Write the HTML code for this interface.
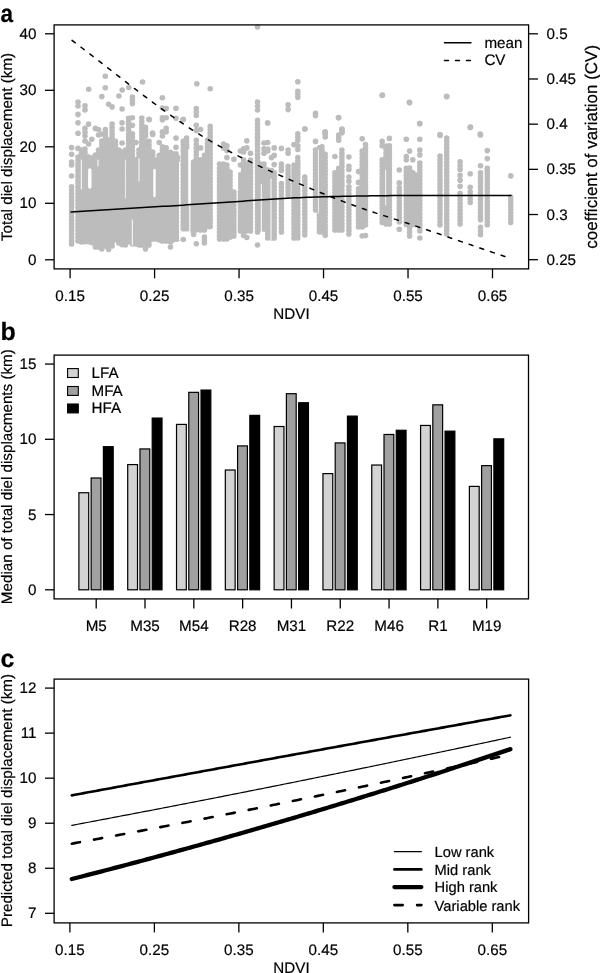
<!DOCTYPE html>
<html><head><meta charset="utf-8"><style>
html,body{margin:0;padding:0;background:#fff;overflow:hidden;}
svg{display:block;font-family:"Liberation Sans",sans-serif;filter:grayscale(1);text-rendering:geometricPrecision;}
</style></head><body><svg width="600" height="973" viewBox="0 0 600 973" font-family="Liberation Sans, sans-serif" fill="#000"><g fill="#bcbcbc" stroke="#bcbcbc" stroke-width="5.6" stroke-linecap="round">
<line x1="71.6" y1="186.7" x2="71.6" y2="244.01" stroke-dasharray="0 3.371"/>
<line x1="71.6" y1="162" x2="71.6" y2="165.01" stroke-dasharray="0 3.000"/>
<circle cx="71.6" cy="147.6" r="2.8" stroke="none"/>
<circle cx="71.6" cy="154.3" r="2.8" stroke="none"/>
<circle cx="71.6" cy="176" r="2.8" stroke="none"/>
<line x1="78.0" y1="157" x2="78.0" y2="241.01" stroke-dasharray="0 3.360"/>
<line x1="78.0" y1="102" x2="78.0" y2="106.01" stroke-dasharray="0 4.000"/>
<circle cx="78.0" cy="114.4" r="2.8" stroke="none"/>
<circle cx="78.0" cy="122.8" r="2.8" stroke="none"/>
<circle cx="78.0" cy="133.3" r="2.8" stroke="none"/>
<circle cx="78.0" cy="148.4" r="2.8" stroke="none"/>
<line x1="81.5" y1="150" x2="81.5" y2="242.01" stroke-dasharray="0 3.407"/>
<line x1="85.0" y1="149" x2="85.0" y2="245.01" stroke-dasharray="0 3.429"/>
<line x1="85.0" y1="105.8" x2="85.0" y2="110.01" stroke-dasharray="0 4.200"/>
<line x1="85.0" y1="128.4" x2="85.0" y2="136.01" stroke-dasharray="0 3.800"/>
<circle cx="85.0" cy="141" r="2.8" stroke="none"/>
<line x1="88.6" y1="157" x2="88.6" y2="245.01" stroke-dasharray="0 3.385"/>
<circle cx="88.6" cy="124.1" r="2.8" stroke="none"/>
<circle cx="88.6" cy="144" r="2.8" stroke="none"/>
<line x1="91.8" y1="158" x2="91.8" y2="246.01" stroke-dasharray="0 3.385"/>
<circle cx="91.8" cy="139.2" r="2.8" stroke="none"/>
<line x1="95.3" y1="155" x2="95.3" y2="247.01" stroke-dasharray="0 3.407"/>
<circle cx="95.3" cy="128.4" r="2.8" stroke="none"/>
<line x1="98.5" y1="150" x2="98.5" y2="247.01" stroke-dasharray="0 3.345"/>
<circle cx="98.5" cy="129.5" r="2.8" stroke="none"/>
<circle cx="98.5" cy="135" r="2.8" stroke="none"/>
<line x1="101.8" y1="141" x2="101.8" y2="249.01" stroke-dasharray="0 3.375"/>
<circle cx="101.8" cy="96.6" r="2.8" stroke="none"/>
<circle cx="101.8" cy="134" r="2.8" stroke="none"/>
<line x1="105.4" y1="129.5" x2="105.4" y2="249.51" stroke-dasharray="0 3.429"/>
<line x1="108.6" y1="140" x2="108.6" y2="249.51" stroke-dasharray="0 3.422"/>
<circle cx="108.6" cy="104.2" r="2.8" stroke="none"/>
<line x1="112.1" y1="124" x2="112.1" y2="246.01" stroke-dasharray="0 3.389"/>
<circle cx="112.1" cy="106.9" r="2.8" stroke="none"/>
<line x1="115.5" y1="141.4" x2="115.5" y2="243.01" stroke-dasharray="0 3.387"/>
<line x1="118.9" y1="150" x2="118.9" y2="243.01" stroke-dasharray="0 3.444"/>
<circle cx="118.9" cy="96" r="2.8" stroke="none"/>
<line x1="122.1" y1="152" x2="122.1" y2="248.01" stroke-dasharray="0 3.429"/>
<circle cx="122.1" cy="109" r="2.8" stroke="none"/>
<circle cx="122.1" cy="122.8" r="2.8" stroke="none"/>
<circle cx="122.1" cy="129" r="2.8" stroke="none"/>
<circle cx="122.1" cy="143" r="2.8" stroke="none"/>
<line x1="125.5" y1="150" x2="125.5" y2="245.01" stroke-dasharray="0 3.393"/>
<line x1="128.6" y1="130.6" x2="128.6" y2="245.01" stroke-dasharray="0 3.365"/>
<line x1="128.6" y1="118.2" x2="128.6" y2="127.41" stroke-dasharray="0 3.067"/>
<line x1="132.4" y1="133.8" x2="132.4" y2="244.01" stroke-dasharray="0 3.444"/>
<line x1="132.4" y1="97" x2="132.4" y2="103.61" stroke-dasharray="0 3.300"/>
<circle cx="132.4" cy="117.7" r="2.8" stroke="none"/>
<circle cx="132.4" cy="125.2" r="2.8" stroke="none"/>
<line x1="136.1" y1="159.7" x2="136.1" y2="244.01" stroke-dasharray="0 3.372"/>
<circle cx="136.1" cy="142.5" r="2.8" stroke="none"/>
<line x1="139.0" y1="150" x2="139.0" y2="245.01" stroke-dasharray="0 3.393"/>
<line x1="141.8" y1="118" x2="141.8" y2="245.01" stroke-dasharray="0 3.432"/>
<line x1="145.5" y1="141.4" x2="145.5" y2="249.01" stroke-dasharray="0 3.362"/>
<line x1="145.5" y1="127.4" x2="145.5" y2="136.01" stroke-dasharray="0 2.867"/>
<line x1="149.0" y1="141.4" x2="149.0" y2="245.01" stroke-dasharray="0 3.453"/>
<circle cx="149.0" cy="119.3" r="2.8" stroke="none"/>
<line x1="152.7" y1="152" x2="152.7" y2="239.01" stroke-dasharray="0 3.346"/>
<circle cx="152.7" cy="134.4" r="2.8" stroke="none"/>
<line x1="156.0" y1="160" x2="156.0" y2="239.01" stroke-dasharray="0 3.435"/>
<line x1="159.2" y1="155.4" x2="159.2" y2="240.01" stroke-dasharray="0 3.384"/>
<circle cx="159.2" cy="142.5" r="2.8" stroke="none"/>
<line x1="162.4" y1="146.8" x2="162.4" y2="241.01" stroke-dasharray="0 3.364"/>
<line x1="162.4" y1="117.7" x2="162.4" y2="119.81" stroke-dasharray="0 2.100"/>
<line x1="162.4" y1="131.7" x2="162.4" y2="136.01" stroke-dasharray="0 4.300"/>
<circle cx="162.4" cy="97.7" r="2.8" stroke="none"/>
<circle cx="162.4" cy="108" r="2.8" stroke="none"/>
<line x1="166.2" y1="147.9" x2="166.2" y2="241.01" stroke-dasharray="0 3.448"/>
<line x1="166.2" y1="128.4" x2="166.2" y2="131.71" stroke-dasharray="0 3.300"/>
<circle cx="166.2" cy="108.5" r="2.8" stroke="none"/>
<circle cx="166.2" cy="117.7" r="2.8" stroke="none"/>
<line x1="170.5" y1="152.2" x2="170.5" y2="242.01" stroke-dasharray="0 3.454"/>
<circle cx="170.5" cy="247" r="2.8" stroke="none"/>
<line x1="173.2" y1="154" x2="173.2" y2="240.01" stroke-dasharray="0 3.440"/>
<line x1="176.0" y1="153.8" x2="176.0" y2="239.01" stroke-dasharray="0 3.408"/>
<circle cx="176.0" cy="108.3" r="2.8" stroke="none"/>
<circle cx="176.0" cy="118.2" r="2.8" stroke="none"/>
<circle cx="176.0" cy="138.1" r="2.8" stroke="none"/>
<circle cx="176.0" cy="147.3" r="2.8" stroke="none"/>
<line x1="177.5" y1="157.6" x2="177.5" y2="239.01" stroke-dasharray="0 3.392"/>
<line x1="183.3" y1="141.4" x2="183.3" y2="232.01" stroke-dasharray="0 3.356"/>
<circle cx="183.3" cy="119.3" r="2.8" stroke="none"/>
<circle cx="183.3" cy="239.5" r="2.8" stroke="none"/>
<line x1="186.6" y1="138.1" x2="186.6" y2="232.01" stroke-dasharray="0 3.354"/>
<line x1="191.2" y1="165" x2="191.2" y2="230.01" stroke-dasharray="0 3.421"/>
<line x1="193.6" y1="162" x2="193.6" y2="230.01" stroke-dasharray="0 3.400"/>
<circle cx="193.6" cy="234.5" r="2.8" stroke="none"/>
<line x1="196.3" y1="144.6" x2="196.3" y2="230.01" stroke-dasharray="0 3.416"/>
<line x1="196.3" y1="108.5" x2="196.3" y2="115.51" stroke-dasharray="0 3.500"/>
<circle cx="196.3" cy="125.2" r="2.8" stroke="none"/>
<circle cx="196.3" cy="130.6" r="2.8" stroke="none"/>
<circle cx="196.3" cy="140.3" r="2.8" stroke="none"/>
<circle cx="196.3" cy="243.8" r="2.8" stroke="none"/>
<line x1="200.6" y1="164" x2="200.6" y2="230.01" stroke-dasharray="0 3.474"/>
<circle cx="200.6" cy="129.5" r="2.8" stroke="none"/>
<circle cx="200.6" cy="147.9" r="2.8" stroke="none"/>
<circle cx="200.6" cy="159.7" r="2.8" stroke="none"/>
<line x1="204.4" y1="155.4" x2="204.4" y2="230.01" stroke-dasharray="0 3.391"/>
<line x1="204.4" y1="237" x2="204.4" y2="243.01" stroke-dasharray="0 3.000"/>
<line x1="207.5" y1="140" x2="207.5" y2="230.01" stroke-dasharray="0 3.462"/>
<line x1="210.2" y1="126.3" x2="210.2" y2="230.01" stroke-dasharray="0 3.457"/>
<circle cx="210.2" cy="88.7" r="2.8" stroke="none"/>
<line x1="219.5" y1="168.4" x2="219.5" y2="239.01" stroke-dasharray="0 3.362"/>
<circle cx="219.5" cy="164" r="2.8" stroke="none"/>
<line x1="223.6" y1="164" x2="223.6" y2="239.01" stroke-dasharray="0 3.409"/>
<circle cx="223.6" cy="144" r="2.8" stroke="none"/>
<circle cx="223.6" cy="147.9" r="2.8" stroke="none"/>
<line x1="226.9" y1="165" x2="226.9" y2="239.01" stroke-dasharray="0 3.364"/>
<circle cx="226.9" cy="145.7" r="2.8" stroke="none"/>
<circle cx="226.9" cy="150.6" r="2.8" stroke="none"/>
<circle cx="226.9" cy="157.6" r="2.8" stroke="none"/>
<line x1="230.1" y1="172" x2="230.1" y2="237.01" stroke-dasharray="0 3.421"/>
<line x1="233.9" y1="192" x2="233.9" y2="236.01" stroke-dasharray="0 3.385"/>
<circle cx="233.9" cy="159.2" r="2.8" stroke="none"/>
<line x1="240.4" y1="174.8" x2="240.4" y2="231.01" stroke-dasharray="0 3.306"/>
<circle cx="240.4" cy="151" r="2.8" stroke="none"/>
<circle cx="240.4" cy="165" r="2.8" stroke="none"/>
<circle cx="240.4" cy="181.3" r="2.8" stroke="none"/>
<line x1="243.6" y1="164" x2="243.6" y2="231.01" stroke-dasharray="0 3.350"/>
<circle cx="243.6" cy="148.9" r="2.8" stroke="none"/>
<circle cx="243.6" cy="152" r="2.8" stroke="none"/>
<circle cx="243.6" cy="160" r="2.8" stroke="none"/>
<circle cx="243.6" cy="235.5" r="2.8" stroke="none"/>
<line x1="246.8" y1="164" x2="246.8" y2="231.01" stroke-dasharray="0 3.350"/>
<circle cx="246.8" cy="140.8" r="2.8" stroke="none"/>
<circle cx="246.8" cy="147.9" r="2.8" stroke="none"/>
<circle cx="246.8" cy="237.5" r="2.8" stroke="none"/>
<line x1="250.5" y1="160" x2="250.5" y2="231.01" stroke-dasharray="0 3.381"/>
<circle cx="250.5" cy="153.3" r="2.8" stroke="none"/>
<line x1="257.5" y1="120.4" x2="257.5" y2="232.01" stroke-dasharray="0 3.382"/>
<line x1="257.5" y1="102" x2="257.5" y2="110.01" stroke-dasharray="0 4.000"/>
<circle cx="257.5" cy="245" r="2.8" stroke="none"/>
<circle cx="257.5" cy="27" r="2.8" stroke="none"/>
<line x1="260.5" y1="164" x2="260.5" y2="229.01" stroke-dasharray="0 3.421"/>
<line x1="264.0" y1="164" x2="264.0" y2="229.01" stroke-dasharray="0 3.421"/>
<circle cx="264.0" cy="143" r="2.8" stroke="none"/>
<circle cx="264.0" cy="148.9" r="2.8" stroke="none"/>
<circle cx="264.0" cy="153.3" r="2.8" stroke="none"/>
<line x1="267.7" y1="170" x2="267.7" y2="238.01" stroke-dasharray="0 3.400"/>
<circle cx="267.7" cy="123" r="2.8" stroke="none"/>
<circle cx="267.7" cy="142.5" r="2.8" stroke="none"/>
<circle cx="267.7" cy="149" r="2.8" stroke="none"/>
<circle cx="267.7" cy="151" r="2.8" stroke="none"/>
<line x1="271.5" y1="170.5" x2="271.5" y2="238.01" stroke-dasharray="0 3.375"/>
<circle cx="271.5" cy="157.6" r="2.8" stroke="none"/>
<line x1="274.2" y1="172.7" x2="274.2" y2="238.01" stroke-dasharray="0 3.437"/>
<circle cx="274.2" cy="147.9" r="2.8" stroke="none"/>
<circle cx="274.2" cy="155.4" r="2.8" stroke="none"/>
<circle cx="274.2" cy="164.6" r="2.8" stroke="none"/>
<line x1="281.4" y1="183.5" x2="281.4" y2="232.01" stroke-dasharray="0 3.464"/>
<line x1="281.4" y1="164" x2="281.4" y2="170.51" stroke-dasharray="0 3.250"/>
<circle cx="281.4" cy="148.4" r="2.8" stroke="none"/>
<line x1="288.1" y1="166.2" x2="288.1" y2="195.01" stroke-dasharray="0 3.600"/>
<line x1="288.1" y1="104.7" x2="288.1" y2="109.61" stroke-dasharray="0 4.900"/>
<line x1="288.1" y1="150" x2="288.1" y2="153.31" stroke-dasharray="0 3.300"/>
<line x1="294.0" y1="165" x2="294.0" y2="238.01" stroke-dasharray="0 3.476"/>
<circle cx="294.0" cy="144.6" r="2.8" stroke="none"/>
<line x1="297.8" y1="157.6" x2="297.8" y2="238.01" stroke-dasharray="0 3.350"/>
<line x1="297.8" y1="133.8" x2="297.8" y2="140.31" stroke-dasharray="0 3.250"/>
<line x1="297.8" y1="91.4" x2="297.8" y2="97.21" stroke-dasharray="0 2.900"/>
<circle cx="297.8" cy="81.8" r="2.8" stroke="none"/>
<circle cx="297.8" cy="145.7" r="2.8" stroke="none"/>
<circle cx="297.8" cy="149.5" r="2.8" stroke="none"/>
<line x1="304.8" y1="177" x2="304.8" y2="235.01" stroke-dasharray="0 3.412"/>
<circle cx="304.8" cy="129" r="2.8" stroke="none"/>
<line x1="315.5" y1="150" x2="315.5" y2="210.01" stroke-dasharray="0 3.333"/>
<line x1="315.5" y1="113.4" x2="315.5" y2="115.61" stroke-dasharray="0 2.200"/>
<circle cx="315.5" cy="141.4" r="2.8" stroke="none"/>
<line x1="319.4" y1="147.9" x2="319.4" y2="232.01" stroke-dasharray="0 3.364"/>
<line x1="322.0" y1="146.8" x2="322.0" y2="232.01" stroke-dasharray="0 3.408"/>
<line x1="325.2" y1="154.3" x2="325.2" y2="232.01" stroke-dasharray="0 3.378"/>
<line x1="325.2" y1="131.7" x2="325.2" y2="137.01" stroke-dasharray="0 2.650"/>
<circle cx="325.2" cy="235.2" r="2.8" stroke="none"/>
<line x1="334.9" y1="172.7" x2="334.9" y2="230.01" stroke-dasharray="0 3.371"/>
<circle cx="334.9" cy="156.5" r="2.8" stroke="none"/>
<line x1="338.7" y1="168.4" x2="338.7" y2="230.01" stroke-dasharray="0 3.422"/>
<line x1="338.7" y1="135" x2="338.7" y2="140.31" stroke-dasharray="0 2.650"/>
<circle cx="338.7" cy="117.7" r="2.8" stroke="none"/>
<line x1="341.9" y1="150" x2="341.9" y2="230.01" stroke-dasharray="0 3.333"/>
<line x1="341.9" y1="129.5" x2="341.9" y2="132.81" stroke-dasharray="0 3.300"/>
<line x1="348.9" y1="186.7" x2="348.9" y2="234.01" stroke-dasharray="0 3.379"/>
<line x1="348.9" y1="166.2" x2="348.9" y2="169.41" stroke-dasharray="0 3.200"/>
<line x1="348.9" y1="177" x2="348.9" y2="181.31" stroke-dasharray="0 4.300"/>
<circle cx="348.9" cy="157" r="2.8" stroke="none"/>
<line x1="358.5" y1="188.9" x2="358.5" y2="227.01" stroke-dasharray="0 3.464"/>
<circle cx="358.5" cy="171.6" r="2.8" stroke="none"/>
<circle cx="358.5" cy="182.4" r="2.8" stroke="none"/>
<line x1="362.2" y1="151.1" x2="362.2" y2="227.01" stroke-dasharray="0 3.450"/>
<circle cx="362.2" cy="138.7" r="2.8" stroke="none"/>
<circle cx="362.2" cy="236" r="2.8" stroke="none"/>
<line x1="365.5" y1="144.6" x2="365.5" y2="225.01" stroke-dasharray="0 3.350"/>
<circle cx="365.5" cy="235.5" r="2.8" stroke="none"/>
<line x1="382.2" y1="159.7" x2="382.2" y2="222.51" stroke-dasharray="0 3.489"/>
<line x1="382.2" y1="141.4" x2="382.2" y2="145.71" stroke-dasharray="0 4.300"/>
<circle cx="382.2" cy="95.5" r="2.8" stroke="none"/>
<line x1="386.0" y1="146" x2="386.0" y2="224.01" stroke-dasharray="0 3.391"/>
<line x1="389.4" y1="145.7" x2="389.4" y2="224.01" stroke-dasharray="0 3.404"/>
<circle cx="389.4" cy="138.4" r="2.8" stroke="none"/>
<line x1="399.3" y1="187.8" x2="399.3" y2="222.01" stroke-dasharray="0 3.420"/>
<circle cx="399.3" cy="170" r="2.8" stroke="none"/>
<circle cx="399.3" cy="182.9" r="2.8" stroke="none"/>
<circle cx="399.3" cy="229.3" r="2.8" stroke="none"/>
<line x1="406.3" y1="168.4" x2="406.3" y2="224.51" stroke-dasharray="0 3.506"/>
<line x1="406.3" y1="156.5" x2="406.3" y2="159.71" stroke-dasharray="0 3.200"/>
<circle cx="406.3" cy="139.2" r="2.8" stroke="none"/>
<line x1="409.6" y1="178" x2="409.6" y2="224.51" stroke-dasharray="0 3.321"/>
<line x1="409.6" y1="168" x2="409.6" y2="173.71" stroke-dasharray="0 2.850"/>
<line x1="409.6" y1="224.5" x2="409.6" y2="236.01" stroke-dasharray="0 3.833"/>
<circle cx="409.6" cy="102.6" r="2.8" stroke="none"/>
<circle cx="409.6" cy="151.1" r="2.8" stroke="none"/>
<line x1="412.8" y1="172.7" x2="412.8" y2="224.51" stroke-dasharray="0 3.453"/>
<circle cx="412.8" cy="159.7" r="2.8" stroke="none"/>
<line x1="416.0" y1="175" x2="416.0" y2="224.51" stroke-dasharray="0 3.300"/>
<line x1="419.8" y1="163" x2="419.8" y2="231.01" stroke-dasharray="0 3.400"/>
<line x1="419.8" y1="150" x2="419.8" y2="154.91" stroke-dasharray="0 4.900"/>
<circle cx="419.8" cy="123.6" r="2.8" stroke="none"/>
<circle cx="419.8" cy="139.2" r="2.8" stroke="none"/>
<circle cx="419.8" cy="238" r="2.8" stroke="none"/>
<line x1="440.0" y1="156" x2="440.0" y2="225.01" stroke-dasharray="0 3.450"/>
<circle cx="440.0" cy="135.5" r="2.8" stroke="none"/>
<line x1="446.7" y1="138.1" x2="446.7" y2="234.01" stroke-dasharray="0 3.425"/>
<circle cx="446.7" cy="96.6" r="2.8" stroke="none"/>
<line x1="460.1" y1="193.2" x2="460.1" y2="224.01" stroke-dasharray="0 3.422"/>
<line x1="460.1" y1="161.9" x2="460.1" y2="169.41" stroke-dasharray="0 3.750"/>
<circle cx="460.1" cy="175.4" r="2.8" stroke="none"/>
<circle cx="460.1" cy="180.2" r="2.8" stroke="none"/>
<circle cx="460.1" cy="186.2" r="2.8" stroke="none"/>
<line x1="470.2" y1="192" x2="470.2" y2="202.51" stroke-dasharray="0 3.500"/>
<circle cx="470.2" cy="127.4" r="2.8" stroke="none"/>
<circle cx="470.2" cy="173.7" r="2.8" stroke="none"/>
<circle cx="470.2" cy="187.2" r="2.8" stroke="none"/>
<line x1="480.5" y1="172.7" x2="480.5" y2="219.71" stroke-dasharray="0 3.357"/>
<line x1="480.5" y1="227.25" x2="480.5" y2="234.76" stroke-dasharray="0 3.750"/>
<circle cx="480.5" cy="134.9" r="2.8" stroke="none"/>
<circle cx="480.5" cy="165.7" r="2.8" stroke="none"/>
<line x1="487.3" y1="178" x2="487.3" y2="224.71" stroke-dasharray="0 3.336"/>
<line x1="487.3" y1="168.4" x2="487.3" y2="174.31" stroke-dasharray="0 2.950"/>
<circle cx="487.3" cy="150.6" r="2.8" stroke="none"/>
<circle cx="487.3" cy="158.6" r="2.8" stroke="none"/>
<line x1="510.7" y1="197" x2="510.7" y2="222.51" stroke-dasharray="0 3.188"/>
<circle cx="510.7" cy="175.9" r="2.8" stroke="none"/>
<circle cx="105.3" cy="76.2" r="2.8" stroke="none"/>
<circle cx="142.5" cy="82" r="2.8" stroke="none"/>
<circle cx="196.8" cy="83.8" r="2.8" stroke="none"/>
<circle cx="88.7" cy="89.2" r="2.8" stroke="none"/>
<circle cx="105.3" cy="87.8" r="2.8" stroke="none"/>
<circle cx="122.2" cy="90" r="2.8" stroke="none"/>
<circle cx="128.8" cy="87.5" r="2.8" stroke="none"/>
<circle cx="267.6" cy="123" r="2.8" stroke="none"/>
<circle cx="305" cy="129" r="2.8" stroke="none"/>
<circle cx="325" cy="132.6" r="2.8" stroke="none"/>
<circle cx="342" cy="129" r="2.8" stroke="none"/>
<circle cx="342" cy="132" r="2.8" stroke="none"/>
<circle cx="338.4" cy="117.6" r="2.8" stroke="none"/>
<circle cx="183" cy="119.7" r="2.8" stroke="none"/>
<circle cx="152.5" cy="133" r="2.8" stroke="none"/>
<circle cx="149.2" cy="119.7" r="2.8" stroke="none"/>
<circle cx="470.5" cy="127" r="2.8" stroke="none"/>
<circle cx="480.2" cy="134" r="2.8" stroke="none"/>
<circle cx="440" cy="134.6" r="2.8" stroke="none"/>
<circle cx="446.6" cy="96.4" r="2.8" stroke="none"/>
<circle cx="409.4" cy="102.4" r="2.8" stroke="none"/>
<circle cx="382.4" cy="95" r="2.8" stroke="none"/>
<circle cx="419.6" cy="123.6" r="2.8" stroke="none"/>
</g>
<g stroke="#fff" stroke-linecap="round">
<line x1="81.3" y1="160" x2="81.3" y2="189" stroke-width="1.0"/>
<line x1="125.4" y1="160" x2="125.4" y2="198" stroke-width="0.8"/>
<line x1="89.8" y1="170" x2="89.8" y2="187" stroke-width="3.4"/>
<line x1="98" y1="160" x2="98" y2="166" stroke-width="1.0"/>
<line x1="154.5" y1="170" x2="154.5" y2="196" stroke-width="2.4"/>
<line x1="189.5" y1="150" x2="189.5" y2="203" stroke-width="2.6"/>
<line x1="237.3" y1="167" x2="237.3" y2="190" stroke-width="1.6"/>
<line x1="132.3" y1="220" x2="132.3" y2="245" stroke-width="1.0"/>
<line x1="139" y1="158.6" x2="139" y2="181" stroke-width="1.0"/>
<line x1="179.5" y1="162" x2="179.5" y2="240" stroke-width="1.0"/>
<line x1="189.8" y1="162" x2="189.8" y2="235" stroke-width="1.2"/>
<line x1="261.3" y1="184.5" x2="261.3" y2="232" stroke-width="1.0"/>
<line x1="271" y1="179" x2="271" y2="240" stroke-width="1.0"/>
<line x1="385.7" y1="170" x2="385.7" y2="205" stroke-width="0.9"/>
<line x1="318.4" y1="150" x2="318.4" y2="213" stroke-width="0.8"/>
</g>
<rect x="54.1" y="24.9" width="474.5" height="244" fill="none" stroke="#000" stroke-width="1.3"/>
<line x1="45" y1="259.8" x2="54.1" y2="259.8" stroke="#000" stroke-width="1.3" stroke-linecap="butt"/>
<text transform="translate(36.5 264.8) scale(1 1.0)" font-size="15.2" text-anchor="end" stroke="#000" stroke-width="0.2">0</text>
<line x1="45" y1="203.3" x2="54.1" y2="203.3" stroke="#000" stroke-width="1.3" stroke-linecap="butt"/>
<text transform="translate(36.5 208.3) scale(1 1.0)" font-size="15.2" text-anchor="end" stroke="#000" stroke-width="0.2">10</text>
<line x1="45" y1="146.8" x2="54.1" y2="146.8" stroke="#000" stroke-width="1.3" stroke-linecap="butt"/>
<text transform="translate(36.5 151.8) scale(1 1.0)" font-size="15.2" text-anchor="end" stroke="#000" stroke-width="0.2">20</text>
<line x1="45" y1="90.30000000000001" x2="54.1" y2="90.30000000000001" stroke="#000" stroke-width="1.3" stroke-linecap="butt"/>
<text transform="translate(36.5 95.30000000000001) scale(1 1.0)" font-size="15.2" text-anchor="end" stroke="#000" stroke-width="0.2">30</text>
<line x1="45" y1="33.80000000000001" x2="54.1" y2="33.80000000000001" stroke="#000" stroke-width="1.3" stroke-linecap="butt"/>
<text transform="translate(36.5 38.80000000000001) scale(1 1.0)" font-size="15.2" text-anchor="end" stroke="#000" stroke-width="0.2">40</text>
<line x1="528.6" y1="33.8" x2="538" y2="33.8" stroke="#000" stroke-width="1.3" stroke-linecap="butt"/>
<text transform="translate(546.5 38.8) scale(1 1.0)" font-size="15.2" text-anchor="start" stroke="#000" stroke-width="0.2">0.5</text>
<line x1="528.6" y1="78.97999999999999" x2="538" y2="78.97999999999999" stroke="#000" stroke-width="1.3" stroke-linecap="butt"/>
<text transform="translate(546.5 83.97999999999999) scale(1 1.0)" font-size="15.2" text-anchor="start" stroke="#000" stroke-width="0.2">0.45</text>
<line x1="528.6" y1="124.16" x2="538" y2="124.16" stroke="#000" stroke-width="1.3" stroke-linecap="butt"/>
<text transform="translate(546.5 129.16) scale(1 1.0)" font-size="15.2" text-anchor="start" stroke="#000" stroke-width="0.2">0.4</text>
<line x1="528.6" y1="169.33999999999997" x2="538" y2="169.33999999999997" stroke="#000" stroke-width="1.3" stroke-linecap="butt"/>
<text transform="translate(546.5 174.33999999999997) scale(1 1.0)" font-size="15.2" text-anchor="start" stroke="#000" stroke-width="0.2">0.35</text>
<line x1="528.6" y1="214.51999999999998" x2="538" y2="214.51999999999998" stroke="#000" stroke-width="1.3" stroke-linecap="butt"/>
<text transform="translate(546.5 219.51999999999998) scale(1 1.0)" font-size="15.2" text-anchor="start" stroke="#000" stroke-width="0.2">0.3</text>
<line x1="528.6" y1="259.7" x2="538" y2="259.7" stroke="#000" stroke-width="1.3" stroke-linecap="butt"/>
<text transform="translate(546.5 264.7) scale(1 1.0)" font-size="15.2" text-anchor="start" stroke="#000" stroke-width="0.2">0.25</text>
<line x1="70.1" y1="268.9" x2="70.1" y2="278.3" stroke="#000" stroke-width="1.3" stroke-linecap="butt"/>
<text transform="translate(70.1 301) scale(1 1.0)" font-size="15.2" text-anchor="middle" stroke="#000" stroke-width="0.2">0.15</text>
<line x1="154.57999999999998" y1="268.9" x2="154.57999999999998" y2="278.3" stroke="#000" stroke-width="1.3" stroke-linecap="butt"/>
<text transform="translate(154.57999999999998 301) scale(1 1.0)" font-size="15.2" text-anchor="middle" stroke="#000" stroke-width="0.2">0.25</text>
<line x1="239.06" y1="268.9" x2="239.06" y2="278.3" stroke="#000" stroke-width="1.3" stroke-linecap="butt"/>
<text transform="translate(239.06 301) scale(1 1.0)" font-size="15.2" text-anchor="middle" stroke="#000" stroke-width="0.2">0.35</text>
<line x1="323.53999999999996" y1="268.9" x2="323.53999999999996" y2="278.3" stroke="#000" stroke-width="1.3" stroke-linecap="butt"/>
<text transform="translate(323.53999999999996 301) scale(1 1.0)" font-size="15.2" text-anchor="middle" stroke="#000" stroke-width="0.2">0.45</text>
<line x1="408.02" y1="268.9" x2="408.02" y2="278.3" stroke="#000" stroke-width="1.3" stroke-linecap="butt"/>
<text transform="translate(408.02 301) scale(1 1.0)" font-size="15.2" text-anchor="middle" stroke="#000" stroke-width="0.2">0.55</text>
<line x1="492.5" y1="268.9" x2="492.5" y2="278.3" stroke="#000" stroke-width="1.3" stroke-linecap="butt"/>
<text transform="translate(492.5 301) scale(1 1.0)" font-size="15.2" text-anchor="middle" stroke="#000" stroke-width="0.2">0.65</text>
<text transform="translate(291.5 318.5) scale(1 1.0)" font-size="15.2" text-anchor="middle" stroke="#000" stroke-width="0.2">NDVI</text>
<text transform="translate(0.6,22.3) scale(0.9,1)" font-size="25" font-weight="bold" stroke="#000" stroke-width="0.2">a</text>
<text transform="translate(12 147) rotate(-90) scale(1 1.0)" font-size="15.2" text-anchor="middle" stroke="#000" stroke-width="0.2">Total diel displacement (km)</text>
<text transform="translate(597 146.8) rotate(-90) scale(1 1.0)" font-size="17" text-anchor="middle" stroke="#000" stroke-width="0.2">coefficient of variation (CV)</text>
<line x1="444.45" y1="42.7" x2="470.95" y2="42.7" stroke="#000" stroke-width="1.5" stroke-linecap="round"/>
<line x1="444.45" y1="60.4" x2="470.95" y2="60.4" stroke="#000" stroke-width="1.5" stroke-linecap="round" stroke-dasharray="4 7"/>
<text transform="translate(484.4 47.6) scale(1 1.0)" font-size="15.2" text-anchor="start" stroke="#000" stroke-width="0.2">mean</text>
<text transform="translate(484.4 65.1) scale(1 1.0)" font-size="15.2" text-anchor="start" stroke="#000" stroke-width="0.2">CV</text>
<polyline points="71.0,212.00 75.0,211.75 79.0,211.51 83.0,211.26 87.0,211.02 91.0,210.77 95.0,210.53 99.0,210.28 103.0,210.04 107.0,209.79 111.0,209.54 115.0,209.30 119.0,209.05 123.0,208.81 127.0,208.56 131.0,208.32 135.0,208.07 139.0,207.83 143.0,207.59 147.0,207.34 151.0,207.10 155.0,206.86 159.0,206.62 163.0,206.37 167.0,206.13 171.0,205.88 175.0,205.63 179.0,205.38 183.0,205.13 187.0,204.87 191.0,204.61 195.0,204.35 199.0,204.08 203.0,203.81 207.0,203.54 211.0,203.27 215.0,202.99 219.0,202.72 223.0,202.45 227.0,202.18 231.0,201.91 235.0,201.65 239.0,201.38 243.0,201.13 247.0,200.87 251.0,200.61 255.0,200.34 259.0,200.07 263.0,199.80 267.0,199.53 271.0,199.26 275.0,198.99 279.0,198.74 283.0,198.49 287.0,198.25 291.0,198.03 295.0,197.83 299.0,197.64 303.0,197.47 307.0,197.33 311.0,197.19 315.0,197.06 319.0,196.94 323.0,196.82 327.0,196.70 331.0,196.59 335.0,196.49 339.0,196.40 343.0,196.31 347.0,196.22 351.0,196.15 355.0,196.08 359.0,196.01 363.0,195.96 367.0,195.90 371.0,195.84 375.0,195.78 379.0,195.73 383.0,195.68 387.0,195.63 391.0,195.58 395.0,195.54 399.0,195.50 403.0,195.47 407.0,195.44 411.0,195.42 415.0,195.41 419.0,195.40 423.0,195.40 427.0,195.40 431.0,195.40 435.0,195.40 439.0,195.40 443.0,195.40 447.0,195.40 451.0,195.40 455.0,195.40 459.0,195.40 463.0,195.40 467.0,195.40 471.0,195.40 475.0,195.40 479.0,195.40 483.0,195.40 487.0,195.40 491.0,195.40 495.0,195.40 499.0,195.40 503.0,195.40 507.0,195.40 511.0,195.40" fill="none" stroke="#000" stroke-width="1.5" stroke-linecap="round" stroke-linejoin="round"/>
<polyline points="71.4,39.90 73.4,41.41 75.4,42.92 77.4,44.44 79.4,45.96 81.4,47.49 83.4,49.02 85.4,50.55 87.4,52.09 89.4,53.62 91.4,55.16 93.4,56.71 95.4,58.25 97.4,59.80 99.4,61.35 101.4,62.90 103.4,64.45 105.4,66.00 107.4,67.55 109.4,69.11 111.4,70.66 113.4,72.21 115.4,73.77 117.4,75.32 119.4,76.87 121.4,78.42 123.4,79.97 125.4,81.52 127.4,83.06 129.4,84.60 131.4,86.14 133.4,87.68 135.4,89.21 137.4,90.74 139.4,92.26 141.4,93.78 143.4,95.29 145.4,96.80 147.4,98.30 149.4,99.80 151.4,101.29 153.4,102.78 155.4,104.26 157.4,105.73 159.4,107.19 161.4,108.64 163.4,110.09 165.4,111.53 167.4,112.96 169.4,114.38 171.4,115.79 173.4,117.19 175.4,118.58 177.4,119.96 179.4,121.33 181.4,122.69 183.4,124.04 185.4,125.37 187.4,126.70 189.4,128.01 191.4,129.31 193.4,130.59 195.4,131.86 197.4,133.12 199.4,134.36 201.4,135.59 203.4,136.81 205.4,138.01 207.4,139.20 209.4,140.37 211.4,141.53 213.4,142.68 215.4,143.81 217.4,144.94 219.4,146.05 221.4,147.15 223.4,148.23 225.4,149.31 227.4,150.37 229.4,151.43 231.4,152.47 233.4,153.50 235.4,154.53 237.4,155.54 239.4,156.55 241.4,157.54 243.4,158.53 245.4,159.51 247.4,160.48 249.4,161.44 251.4,162.39 253.4,163.34 255.4,164.28 257.4,165.22 259.4,166.14 261.4,167.06 263.4,167.98 265.4,168.89 267.4,169.79 269.4,170.69 271.4,171.59 273.4,172.48 275.4,173.36 277.4,174.25 279.4,175.12 281.4,176.00 283.4,176.87 285.4,177.74 287.4,178.61 289.4,179.47 291.4,180.33 293.4,181.19 295.4,182.05 297.4,182.91 299.4,183.76 301.4,184.62 303.4,185.47 305.4,186.31 307.4,187.15 309.4,187.99 311.4,188.83 313.4,189.66 315.4,190.49 317.4,191.31 319.4,192.13 321.4,192.95 323.4,193.76 325.4,194.57 327.4,195.37 329.4,196.16 331.4,196.95 333.4,197.74 335.4,198.52 337.4,199.29 339.4,200.06 341.4,200.82 343.4,201.58 345.4,202.33 347.4,203.07 349.4,203.81 351.4,204.54 353.4,205.27 355.4,205.98 357.4,206.69 359.4,207.40 361.4,208.10 363.4,208.79 365.4,209.48 367.4,210.16 369.4,210.84 371.4,211.51 373.4,212.18 375.4,212.85 377.4,213.51 379.4,214.17 381.4,214.83 383.4,215.49 385.4,216.14 387.4,216.79 389.4,217.44 391.4,218.09 393.4,218.74 395.4,219.39 397.4,220.05 399.4,220.70 401.4,221.35 403.4,222.00 405.4,222.66 407.4,223.31 409.4,223.97 411.4,224.63 413.4,225.30 415.4,225.96 417.4,226.63 419.4,227.30 421.4,227.97 423.4,228.64 425.4,229.31 427.4,229.99 429.4,230.67 431.4,231.34 433.4,232.02 435.4,232.70 437.4,233.39 439.4,234.07 441.4,234.75 443.4,235.44 445.4,236.12 447.4,236.81 449.4,237.50 451.4,238.19 453.4,238.87 455.4,239.56 457.4,240.25 459.4,240.94 461.4,241.63 463.4,242.32 465.4,243.01 467.4,243.70 469.4,244.39 471.4,245.08 473.4,245.77 475.4,246.45 477.4,247.14 479.4,247.83 481.4,248.51 483.4,249.20 485.4,249.89 487.4,250.57 489.4,251.25 491.4,251.94 493.4,252.62 495.4,253.30 497.4,253.97 499.4,254.65 501.4,255.33 503.4,256.00 505.4,256.67 507.4,257.34 509.4,258.01" fill="none" stroke="#000" stroke-width="1.5" stroke-linecap="round" stroke-linejoin="round" stroke-dasharray="4 7.257" stroke-dashoffset="-0.8"/>
<rect x="54.1" y="355.1" width="474.4" height="243.8" fill="none" stroke="#000" stroke-width="1.3"/>
<line x1="45" y1="589.8" x2="54.1" y2="589.8" stroke="#000" stroke-width="1.3" stroke-linecap="butt"/>
<text transform="translate(36.5 594.8) scale(1 1.0)" font-size="15.2" text-anchor="end" stroke="#000" stroke-width="0.2">0</text>
<line x1="45" y1="514.55" x2="54.1" y2="514.55" stroke="#000" stroke-width="1.3" stroke-linecap="butt"/>
<text transform="translate(36.5 519.55) scale(1 1.0)" font-size="15.2" text-anchor="end" stroke="#000" stroke-width="0.2">5</text>
<line x1="45" y1="439.29999999999995" x2="54.1" y2="439.29999999999995" stroke="#000" stroke-width="1.3" stroke-linecap="butt"/>
<text transform="translate(36.5 444.29999999999995) scale(1 1.0)" font-size="15.2" text-anchor="end" stroke="#000" stroke-width="0.2">10</text>
<line x1="45" y1="364.04999999999995" x2="54.1" y2="364.04999999999995" stroke="#000" stroke-width="1.3" stroke-linecap="butt"/>
<text transform="translate(36.5 369.04999999999995) scale(1 1.0)" font-size="15.2" text-anchor="end" stroke="#000" stroke-width="0.2">15</text>
<line x1="96.2" y1="598.9" x2="96.2" y2="608.5" stroke="#000" stroke-width="1.3" stroke-linecap="butt"/>
<text transform="translate(96.2 631.0) scale(1 1.0)" font-size="15.2" text-anchor="middle" stroke="#000" stroke-width="0.2">M5</text>
<rect x="78.90" y="492.73" width="9.8" height="97.07" fill="#d3d3d3" stroke="#000" stroke-width="1.2"/>
<rect x="91.15" y="477.98" width="9.8" height="111.82" fill="#a0a0a0" stroke="#000" stroke-width="1.2"/>
<rect x="103.40" y="446.67" width="9.8" height="143.13" fill="#000000" stroke="#000" stroke-width="1.2"/>
<line x1="145.01" y1="598.9" x2="145.01" y2="608.5" stroke="#000" stroke-width="1.3" stroke-linecap="butt"/>
<text transform="translate(145.01 631.0) scale(1 1.0)" font-size="15.2" text-anchor="middle" stroke="#000" stroke-width="0.2">M35</text>
<rect x="127.71" y="464.58" width="9.8" height="125.22" fill="#d3d3d3" stroke="#000" stroke-width="1.2"/>
<rect x="139.96" y="448.93" width="9.8" height="140.87" fill="#a0a0a0" stroke="#000" stroke-width="1.2"/>
<rect x="152.21" y="418.08" width="9.8" height="171.72" fill="#000000" stroke="#000" stroke-width="1.2"/>
<line x1="193.82" y1="598.9" x2="193.82" y2="608.5" stroke="#000" stroke-width="1.3" stroke-linecap="butt"/>
<text transform="translate(193.82 631.0) scale(1 1.0)" font-size="15.2" text-anchor="middle" stroke="#000" stroke-width="0.2">M54</text>
<rect x="176.52" y="424.40" width="9.8" height="165.40" fill="#d3d3d3" stroke="#000" stroke-width="1.2"/>
<rect x="188.77" y="392.34" width="9.8" height="197.46" fill="#a0a0a0" stroke="#000" stroke-width="1.2"/>
<rect x="201.02" y="390.08" width="9.8" height="199.72" fill="#000000" stroke="#000" stroke-width="1.2"/>
<line x1="242.63" y1="598.9" x2="242.63" y2="608.5" stroke="#000" stroke-width="1.3" stroke-linecap="butt"/>
<text transform="translate(242.63 631.0) scale(1 1.0)" font-size="15.2" text-anchor="middle" stroke="#000" stroke-width="0.2">R28</text>
<rect x="225.33" y="470.00" width="9.8" height="119.80" fill="#d3d3d3" stroke="#000" stroke-width="1.2"/>
<rect x="237.58" y="445.92" width="9.8" height="143.88" fill="#a0a0a0" stroke="#000" stroke-width="1.2"/>
<rect x="249.83" y="415.37" width="9.8" height="174.43" fill="#000000" stroke="#000" stroke-width="1.2"/>
<line x1="291.44" y1="598.9" x2="291.44" y2="608.5" stroke="#000" stroke-width="1.3" stroke-linecap="butt"/>
<text transform="translate(291.44 631.0) scale(1 1.0)" font-size="15.2" text-anchor="middle" stroke="#000" stroke-width="0.2">M31</text>
<rect x="274.14" y="426.51" width="9.8" height="163.29" fill="#d3d3d3" stroke="#000" stroke-width="1.2"/>
<rect x="286.39" y="393.70" width="9.8" height="196.10" fill="#a0a0a0" stroke="#000" stroke-width="1.2"/>
<rect x="298.64" y="402.73" width="9.8" height="187.07" fill="#000000" stroke="#000" stroke-width="1.2"/>
<line x1="340.25" y1="598.9" x2="340.25" y2="608.5" stroke="#000" stroke-width="1.3" stroke-linecap="butt"/>
<text transform="translate(340.25 631.0) scale(1 1.0)" font-size="15.2" text-anchor="middle" stroke="#000" stroke-width="0.2">R22</text>
<rect x="322.95" y="473.61" width="9.8" height="116.19" fill="#d3d3d3" stroke="#000" stroke-width="1.2"/>
<rect x="335.20" y="442.91" width="9.8" height="146.89" fill="#a0a0a0" stroke="#000" stroke-width="1.2"/>
<rect x="347.45" y="416.12" width="9.8" height="173.68" fill="#000000" stroke="#000" stroke-width="1.2"/>
<line x1="389.06" y1="598.9" x2="389.06" y2="608.5" stroke="#000" stroke-width="1.3" stroke-linecap="butt"/>
<text transform="translate(389.06 631.0) scale(1 1.0)" font-size="15.2" text-anchor="middle" stroke="#000" stroke-width="0.2">M46</text>
<rect x="371.76" y="465.03" width="9.8" height="124.77" fill="#d3d3d3" stroke="#000" stroke-width="1.2"/>
<rect x="384.01" y="434.48" width="9.8" height="155.32" fill="#a0a0a0" stroke="#000" stroke-width="1.2"/>
<rect x="396.26" y="430.27" width="9.8" height="159.53" fill="#000000" stroke="#000" stroke-width="1.2"/>
<line x1="437.87" y1="598.9" x2="437.87" y2="608.5" stroke="#000" stroke-width="1.3" stroke-linecap="butt"/>
<text transform="translate(437.87 631.0) scale(1 1.0)" font-size="15.2" text-anchor="middle" stroke="#000" stroke-width="0.2">R1</text>
<rect x="420.57" y="425.45" width="9.8" height="164.35" fill="#d3d3d3" stroke="#000" stroke-width="1.2"/>
<rect x="432.82" y="404.83" width="9.8" height="184.97" fill="#a0a0a0" stroke="#000" stroke-width="1.2"/>
<rect x="445.07" y="431.17" width="9.8" height="158.63" fill="#000000" stroke="#000" stroke-width="1.2"/>
<line x1="486.68" y1="598.9" x2="486.68" y2="608.5" stroke="#000" stroke-width="1.3" stroke-linecap="butt"/>
<text transform="translate(486.68 631.0) scale(1 1.0)" font-size="15.2" text-anchor="middle" stroke="#000" stroke-width="0.2">M19</text>
<rect x="469.38" y="486.40" width="9.8" height="103.40" fill="#d3d3d3" stroke="#000" stroke-width="1.2"/>
<rect x="481.63" y="465.64" width="9.8" height="124.16" fill="#a0a0a0" stroke="#000" stroke-width="1.2"/>
<rect x="493.88" y="438.85" width="9.8" height="150.95" fill="#000000" stroke="#000" stroke-width="1.2"/>
<text transform="translate(0.5 339.8) scale(1 1.0)" font-size="25" text-anchor="start" stroke="#000" stroke-width="0.2" font-weight="bold">b</text>
<text transform="translate(12 476.7) rotate(-90) scale(1 1.0)" font-size="15.2" text-anchor="middle" stroke="#000" stroke-width="0.2">Median of total diel displacments (km)</text>
<rect x="67.6" y="368.6" width="10.7" height="8.9" fill="#d3d3d3" stroke="#000" stroke-width="1.1"/>
<text transform="translate(91.5 378) scale(1 1.0)" font-size="15.2" text-anchor="start" stroke="#000" stroke-width="0.2">LFA</text>
<rect x="67.6" y="386.5" width="10.7" height="8.9" fill="#a0a0a0" stroke="#000" stroke-width="1.1"/>
<text transform="translate(91.5 396.3) scale(1 1.0)" font-size="15.2" text-anchor="start" stroke="#000" stroke-width="0.2">MFA</text>
<rect x="67.6" y="404.0" width="10.7" height="8.9" fill="#000000" stroke="#000" stroke-width="1.1"/>
<text transform="translate(91.5 413.2) scale(1 1.0)" font-size="15.2" text-anchor="start" stroke="#000" stroke-width="0.2">HFA</text>
<rect x="54.1" y="679.1" width="474.5" height="243.8" fill="none" stroke="#000" stroke-width="1.3"/>
<line x1="45" y1="913.3" x2="54.1" y2="913.3" stroke="#000" stroke-width="1.3" stroke-linecap="butt"/>
<text transform="translate(36.5 918.3) scale(1 1.0)" font-size="15.2" text-anchor="end" stroke="#000" stroke-width="0.2">7</text>
<line x1="45" y1="868.26" x2="54.1" y2="868.26" stroke="#000" stroke-width="1.3" stroke-linecap="butt"/>
<text transform="translate(36.5 873.26) scale(1 1.0)" font-size="15.2" text-anchor="end" stroke="#000" stroke-width="0.2">8</text>
<line x1="45" y1="823.22" x2="54.1" y2="823.22" stroke="#000" stroke-width="1.3" stroke-linecap="butt"/>
<text transform="translate(36.5 828.22) scale(1 1.0)" font-size="15.2" text-anchor="end" stroke="#000" stroke-width="0.2">9</text>
<line x1="45" y1="778.1800000000001" x2="54.1" y2="778.1800000000001" stroke="#000" stroke-width="1.3" stroke-linecap="butt"/>
<text transform="translate(36.5 783.1800000000001) scale(1 1.0)" font-size="15.2" text-anchor="end" stroke="#000" stroke-width="0.2">10</text>
<line x1="45" y1="733.14" x2="54.1" y2="733.14" stroke="#000" stroke-width="1.3" stroke-linecap="butt"/>
<text transform="translate(36.5 738.14) scale(1 1.0)" font-size="15.2" text-anchor="end" stroke="#000" stroke-width="0.2">11</text>
<line x1="45" y1="688.1" x2="54.1" y2="688.1" stroke="#000" stroke-width="1.3" stroke-linecap="butt"/>
<text transform="translate(36.5 693.1) scale(1 1.0)" font-size="15.2" text-anchor="end" stroke="#000" stroke-width="0.2">12</text>
<line x1="69.89999999999999" y1="922.9" x2="69.89999999999999" y2="932.4" stroke="#000" stroke-width="1.3" stroke-linecap="butt"/>
<text transform="translate(69.89999999999999 955.3) scale(1 1.0)" font-size="15.2" text-anchor="middle" stroke="#000" stroke-width="0.2">0.15</text>
<line x1="154.38" y1="922.9" x2="154.38" y2="932.4" stroke="#000" stroke-width="1.3" stroke-linecap="butt"/>
<text transform="translate(154.38 955.3) scale(1 1.0)" font-size="15.2" text-anchor="middle" stroke="#000" stroke-width="0.2">0.25</text>
<line x1="238.86" y1="922.9" x2="238.86" y2="932.4" stroke="#000" stroke-width="1.3" stroke-linecap="butt"/>
<text transform="translate(238.86 955.3) scale(1 1.0)" font-size="15.2" text-anchor="middle" stroke="#000" stroke-width="0.2">0.35</text>
<line x1="323.34" y1="922.9" x2="323.34" y2="932.4" stroke="#000" stroke-width="1.3" stroke-linecap="butt"/>
<text transform="translate(323.34 955.3) scale(1 1.0)" font-size="15.2" text-anchor="middle" stroke="#000" stroke-width="0.2">0.45</text>
<line x1="407.82" y1="922.9" x2="407.82" y2="932.4" stroke="#000" stroke-width="1.3" stroke-linecap="butt"/>
<text transform="translate(407.82 955.3) scale(1 1.0)" font-size="15.2" text-anchor="middle" stroke="#000" stroke-width="0.2">0.55</text>
<line x1="492.3" y1="922.9" x2="492.3" y2="932.4" stroke="#000" stroke-width="1.3" stroke-linecap="butt"/>
<text transform="translate(492.3 955.3) scale(1 1.0)" font-size="15.2" text-anchor="middle" stroke="#000" stroke-width="0.2">0.65</text>
<text transform="translate(291.5 973) scale(1 1.0)" font-size="15.2" text-anchor="middle" stroke="#000" stroke-width="0.2">NDVI</text>
<text transform="translate(0.5 666.8) scale(1 1.0)" font-size="25" text-anchor="start" stroke="#000" stroke-width="0.2" font-weight="bold">c</text>
<text transform="translate(12 800.6) rotate(-90) scale(1 1.0)" font-size="15.2" text-anchor="middle" stroke="#000" stroke-width="0.2">Predicted total diel displacement (km)</text>
<polyline points="71.8,825.35 74.8,824.79 77.8,824.22 80.8,823.66 83.8,823.10 86.8,822.53 89.8,821.97 92.8,821.40 95.8,820.84 98.8,820.27 101.8,819.70 104.8,819.13 107.8,818.56 110.8,818.00 113.8,817.43 116.8,816.86 119.8,816.28 122.8,815.71 125.8,815.14 128.8,814.57 131.8,814.00 134.8,813.42 137.8,812.85 140.8,812.27 143.8,811.70 146.8,811.12 149.8,810.55 152.8,809.97 155.8,809.39 158.8,808.81 161.8,808.24 164.8,807.66 167.8,807.08 170.8,806.50 173.8,805.92 176.8,805.33 179.8,804.75 182.8,804.17 185.8,803.59 188.8,803.00 191.8,802.42 194.8,801.83 197.8,801.25 200.8,800.66 203.8,800.08 206.8,799.49 209.8,798.90 212.8,798.31 215.8,797.73 218.8,797.14 221.8,796.55 224.8,795.96 227.8,795.37 230.8,794.77 233.8,794.18 236.8,793.59 239.8,793.00 242.8,792.40 245.8,791.81 248.8,791.21 251.8,790.62 254.8,790.02 257.8,789.43 260.8,788.83 263.8,788.23 266.8,787.63 269.8,787.04 272.8,786.44 275.8,785.84 278.8,785.24 281.8,784.64 284.8,784.03 287.8,783.43 290.8,782.83 293.8,782.23 296.8,781.62 299.8,781.02 302.8,780.41 305.8,779.81 308.8,779.20 311.8,778.60 314.8,777.99 317.8,777.38 320.8,776.77 323.8,776.17 326.8,775.56 329.8,774.95 332.8,774.34 335.8,773.73 338.8,773.11 341.8,772.50 344.8,771.89 347.8,771.28 350.8,770.66 353.8,770.05 356.8,769.43 359.8,768.82 362.8,768.20 365.8,767.59 368.8,766.97 371.8,766.35 374.8,765.73 377.8,765.12 380.8,764.50 383.8,763.88 386.8,763.26 389.8,762.64 392.8,762.01 395.8,761.39 398.8,760.77 401.8,760.15 404.8,759.52 407.8,758.90 410.8,758.27 413.8,757.65 416.8,757.02 419.8,756.40 422.8,755.77 425.8,755.14 428.8,754.51 431.8,753.88 434.8,753.26 437.8,752.63 440.8,751.99 443.8,751.36 446.8,750.73 449.8,750.10 452.8,749.47 455.8,748.83 458.8,748.20 461.8,747.57 464.8,746.93 467.8,746.30 470.8,745.66 473.8,745.02 476.8,744.39 479.8,743.75 482.8,743.11 485.8,742.47 488.8,741.83 491.8,741.19 494.8,740.55 497.8,739.91 500.8,739.27 503.8,738.63 506.8,737.99 509.8,737.34 510.4,737.21" fill="none" stroke="#000" stroke-width="1.2" stroke-linecap="round" stroke-linejoin="round"/>
<polyline points="71.8,795.35 74.8,794.80 77.8,794.24 80.8,793.69 83.8,793.14 86.8,792.58 89.8,792.03 92.8,791.48 95.8,790.92 98.8,790.37 101.8,789.82 104.8,789.26 107.8,788.71 110.8,788.16 113.8,787.60 116.8,787.05 119.8,786.50 122.8,785.94 125.8,785.39 128.8,784.84 131.8,784.29 134.8,783.74 137.8,783.18 140.8,782.63 143.8,782.08 146.8,781.53 149.8,780.98 152.8,780.42 155.8,779.87 158.8,779.32 161.8,778.77 164.8,778.22 167.8,777.67 170.8,777.12 173.8,776.56 176.8,776.01 179.8,775.46 182.8,774.91 185.8,774.36 188.8,773.81 191.8,773.26 194.8,772.71 197.8,772.16 200.8,771.61 203.8,771.06 206.8,770.51 209.8,769.96 212.8,769.41 215.8,768.86 218.8,768.31 221.8,767.76 224.8,767.21 227.8,766.66 230.8,766.11 233.8,765.56 236.8,765.01 239.8,764.46 242.8,763.92 245.8,763.37 248.8,762.82 251.8,762.27 254.8,761.72 257.8,761.17 260.8,760.62 263.8,760.08 266.8,759.53 269.8,758.98 272.8,758.43 275.8,757.88 278.8,757.34 281.8,756.79 284.8,756.24 287.8,755.69 290.8,755.15 293.8,754.60 296.8,754.05 299.8,753.50 302.8,752.96 305.8,752.41 308.8,751.86 311.8,751.32 314.8,750.77 317.8,750.22 320.8,749.68 323.8,749.13 326.8,748.58 329.8,748.04 332.8,747.49 335.8,746.95 338.8,746.40 341.8,745.85 344.8,745.31 347.8,744.76 350.8,744.22 353.8,743.67 356.8,743.13 359.8,742.58 362.8,742.04 365.8,741.49 368.8,740.95 371.8,740.40 374.8,739.86 377.8,739.31 380.8,738.77 383.8,738.22 386.8,737.68 389.8,737.13 392.8,736.59 395.8,736.04 398.8,735.50 401.8,734.96 404.8,734.41 407.8,733.87 410.8,733.32 413.8,732.78 416.8,732.24 419.8,731.69 422.8,731.15 425.8,730.61 428.8,730.06 431.8,729.52 434.8,728.98 437.8,728.44 440.8,727.89 443.8,727.35 446.8,726.81 449.8,726.26 452.8,725.72 455.8,725.18 458.8,724.64 461.8,724.10 464.8,723.55 467.8,723.01 470.8,722.47 473.8,721.93 476.8,721.39 479.8,720.84 482.8,720.30 485.8,719.76 488.8,719.22 491.8,718.68 494.8,718.14 497.8,717.60 500.8,717.06 503.8,716.52 506.8,715.97 509.8,715.43 510.4,715.33" fill="none" stroke="#000" stroke-width="2.6" stroke-linecap="round" stroke-linejoin="round"/>
<polyline points="71.8,879.04 74.8,878.28 77.8,877.51 80.8,876.74 83.8,875.97 86.8,875.20 89.8,874.43 92.8,873.65 95.8,872.88 98.8,872.10 101.8,871.32 104.8,870.54 107.8,869.75 110.8,868.97 113.8,868.18 116.8,867.39 119.8,866.60 122.8,865.81 125.8,865.01 128.8,864.22 131.8,863.42 134.8,862.62 137.8,861.82 140.8,861.02 143.8,860.22 146.8,859.41 149.8,858.60 152.8,857.79 155.8,856.98 158.8,856.17 161.8,855.36 164.8,854.54 167.8,853.72 170.8,852.90 173.8,852.08 176.8,851.26 179.8,850.44 182.8,849.61 185.8,848.78 188.8,847.95 191.8,847.12 194.8,846.29 197.8,845.45 200.8,844.62 203.8,843.78 206.8,842.94 209.8,842.10 212.8,841.25 215.8,840.41 218.8,839.56 221.8,838.71 224.8,837.86 227.8,837.01 230.8,836.16 233.8,835.30 236.8,834.45 239.8,833.59 242.8,832.73 245.8,831.87 248.8,831.00 251.8,830.14 254.8,829.27 257.8,828.40 260.8,827.53 263.8,826.66 266.8,825.78 269.8,824.91 272.8,824.03 275.8,823.15 278.8,822.27 281.8,821.39 284.8,820.50 287.8,819.62 290.8,818.73 293.8,817.84 296.8,816.95 299.8,816.06 302.8,815.16 305.8,814.27 308.8,813.37 311.8,812.47 314.8,811.57 317.8,810.67 320.8,809.76 323.8,808.86 326.8,807.95 329.8,807.04 332.8,806.13 335.8,805.21 338.8,804.30 341.8,803.38 344.8,802.46 347.8,801.54 350.8,800.62 353.8,799.70 356.8,798.77 359.8,797.85 362.8,796.92 365.8,795.99 368.8,795.06 371.8,794.12 374.8,793.19 377.8,792.25 380.8,791.31 383.8,790.37 386.8,789.43 389.8,788.49 392.8,787.54 395.8,786.59 398.8,785.65 401.8,784.69 404.8,783.74 407.8,782.79 410.8,781.83 413.8,780.88 416.8,779.92 419.8,778.96 422.8,777.99 425.8,777.03 428.8,776.06 431.8,775.09 434.8,774.13 437.8,773.15 440.8,772.18 443.8,771.21 446.8,770.23 449.8,769.25 452.8,768.27 455.8,767.29 458.8,766.31 461.8,765.32 464.8,764.34 467.8,763.35 470.8,762.36 473.8,761.37 476.8,760.38 479.8,759.38 482.8,758.38 485.8,757.39 488.8,756.39 491.8,755.38 494.8,754.38 497.8,753.38 500.8,752.37 503.8,751.36 506.8,750.35 509.8,749.34 510.4,749.14" fill="none" stroke="#000" stroke-width="4.3" stroke-linecap="round" stroke-linejoin="round"/>
<polyline points="71.8,843.67 74.8,843.12 77.8,842.57 80.8,842.02 83.8,841.47 86.8,840.92 89.8,840.37 92.8,839.82 95.8,839.26 98.8,838.71 101.8,838.15 104.8,837.59 107.8,837.04 110.8,836.48 113.8,835.92 116.8,835.36 119.8,834.80 122.8,834.24 125.8,833.67 128.8,833.11 131.8,832.55 134.8,831.98 137.8,831.41 140.8,830.85 143.8,830.28 146.8,829.71 149.8,829.14 152.8,828.57 155.8,828.00 158.8,827.43 161.8,826.85 164.8,826.28 167.8,825.71 170.8,825.13 173.8,824.55 176.8,823.98 179.8,823.40 182.8,822.82 185.8,822.24 188.8,821.66 191.8,821.08 194.8,820.50 197.8,819.91 200.8,819.33 203.8,818.74 206.8,818.16 209.8,817.57 212.8,816.98 215.8,816.40 218.8,815.81 221.8,815.22 224.8,814.63 227.8,814.04 230.8,813.44 233.8,812.85 236.8,812.26 239.8,811.66 242.8,811.06 245.8,810.47 248.8,809.87 251.8,809.27 254.8,808.67 257.8,808.07 260.8,807.47 263.8,806.87 266.8,806.27 269.8,805.66 272.8,805.06 275.8,804.45 278.8,803.85 281.8,803.24 284.8,802.63 287.8,802.02 290.8,801.41 293.8,800.80 296.8,800.19 299.8,799.58 302.8,798.97 305.8,798.35 308.8,797.74 311.8,797.12 314.8,796.51 317.8,795.89 320.8,795.27 323.8,794.65 326.8,794.03 329.8,793.41 332.8,792.79 335.8,792.17 338.8,791.55 341.8,790.92 344.8,790.30 347.8,789.67 350.8,789.04 353.8,788.42 356.8,787.79 359.8,787.16 362.8,786.53 365.8,785.90 368.8,785.27 371.8,784.64 374.8,784.00 377.8,783.37 380.8,782.73 383.8,782.10 386.8,781.46 389.8,780.82 392.8,780.18 395.8,779.54 398.8,778.90 401.8,778.26 404.8,777.62 407.8,776.98 410.8,776.33 413.8,775.69 416.8,775.05 419.8,774.40 422.8,773.75 425.8,773.10 428.8,772.46 431.8,771.81 434.8,771.16 437.8,770.50 440.8,769.85 443.8,769.20 446.8,768.55 449.8,767.89 452.8,767.24 455.8,766.58 458.8,765.92 461.8,765.26 464.8,764.60 467.8,763.94 470.8,763.28 473.8,762.62 476.8,761.96 479.8,761.30 482.8,760.63 485.8,759.97 488.8,759.30 491.8,758.64 494.8,757.97 497.8,757.30 500.8,756.63 503.8,755.96 506.8,755.29 509.8,754.62 510.4,754.48" fill="none" stroke="#000" stroke-width="2.6" stroke-linecap="round" stroke-linejoin="round" stroke-dasharray="8.3 14.21" stroke-dashoffset="0"/>
<line x1="394.4" y1="851.6" x2="421.4" y2="851.6" stroke="#000" stroke-width="1.2" stroke-linecap="round"/>
<line x1="394.4" y1="869.4" x2="421.4" y2="869.4" stroke="#000" stroke-width="2.6" stroke-linecap="round"/>
<line x1="394.4" y1="887.1" x2="421.4" y2="887.1" stroke="#000" stroke-width="4.2" stroke-linecap="round"/>
<line x1="394.4" y1="905.1" x2="421.4" y2="905.1" stroke="#000" stroke-width="2.6" stroke-linecap="round" stroke-dasharray="8.3 14.4"/>
<text transform="translate(434.6 856.7) scale(1 1.0)" font-size="14.7" text-anchor="start" stroke="#000" stroke-width="0.2">Low rank</text>
<text transform="translate(434.6 874.7) scale(1 1.0)" font-size="14.7" text-anchor="start" stroke="#000" stroke-width="0.2">Mid rank</text>
<text transform="translate(434.6 892.3) scale(1 1.0)" font-size="14.7" text-anchor="start" stroke="#000" stroke-width="0.2">High rank</text>
<text transform="translate(434.6 910.5) scale(1 1.0)" font-size="14.7" text-anchor="start" stroke="#000" stroke-width="0.2">Variable rank</text></svg></body></html>
